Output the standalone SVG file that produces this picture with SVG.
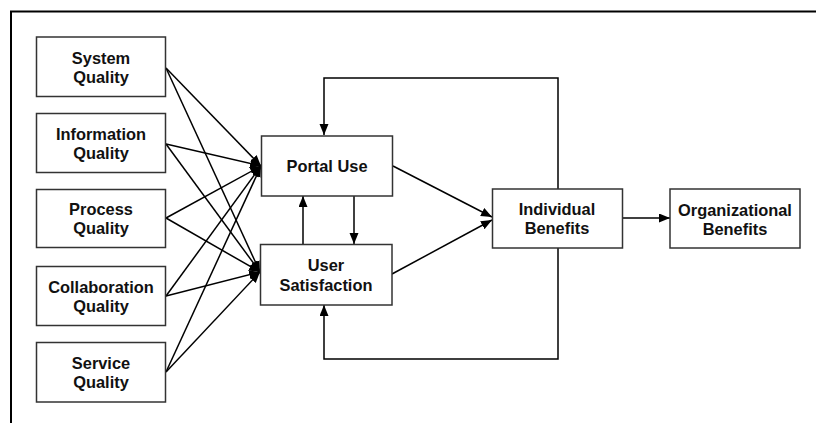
<svg xmlns="http://www.w3.org/2000/svg" width="816" height="423" viewBox="0 0 816 423">
<style>
.box{fill:#fff;stroke:#333;stroke-width:1.5}
.t{font-family:"Liberation Sans",Arial,sans-serif;font-weight:bold;font-size:16.4px;fill:#111;text-anchor:middle}
.c{fill:none;stroke:#000;stroke-width:1.5}
</style>
<defs>
<marker id="ah" markerUnits="userSpaceOnUse" markerWidth="12" markerHeight="10" refX="11" refY="4.5" orient="auto">
<path d="M0,0 L11,4.5 L0,9 z" fill="#000"/>
</marker>
</defs>
<rect width="816" height="423" fill="#fff"/>
<path d="M11,423 V11.5 H816" fill="none" stroke="#000" stroke-width="2"/>
<g id="connectors">
<line class="c" x1="166" y1="68" x2="261" y2="166" marker-end="url(#ah)"/>
<line class="c" x1="166" y1="68" x2="260" y2="272" marker-end="url(#ah)"/>
<line class="c" x1="166" y1="144" x2="261" y2="166" marker-end="url(#ah)"/>
<line class="c" x1="166" y1="144" x2="260" y2="272" marker-end="url(#ah)"/>
<line class="c" x1="166" y1="218" x2="261" y2="166" marker-end="url(#ah)"/>
<line class="c" x1="166" y1="218" x2="260" y2="272" marker-end="url(#ah)"/>
<line class="c" x1="166" y1="296" x2="261" y2="166" marker-end="url(#ah)"/>
<line class="c" x1="166" y1="296" x2="260" y2="272" marker-end="url(#ah)"/>
<line class="c" x1="166" y1="372" x2="261" y2="166" marker-end="url(#ah)"/>
<line class="c" x1="166" y1="372" x2="260" y2="272" marker-end="url(#ah)"/>
<line class="c" x1="354" y1="196" x2="354" y2="244" marker-end="url(#ah)"/>
<line class="c" x1="303" y1="244" x2="303" y2="196" marker-end="url(#ah)"/>
<line class="c" x1="393" y1="166" x2="492" y2="217" marker-end="url(#ah)"/>
<line class="c" x1="392" y1="274" x2="492" y2="220" marker-end="url(#ah)"/>
<line class="c" x1="623" y1="218" x2="670" y2="218" marker-end="url(#ah)"/>
<path class="c" d="M558,189 V78 H324 V135" marker-end="url(#ah)"/>
<path class="c" d="M558,248 V359 H324 V305" marker-end="url(#ah)"/>
</g>
<g id="system-quality"><rect class="box" x="36.5" y="37" width="129" height="59.5"/><text class="t" x="101" y="63.5">System</text><text class="t" x="101" y="82.5">Quality</text></g>
<g id="information-quality"><rect class="box" x="36.5" y="113.5" width="129" height="59"/><text class="t" x="101" y="140">Information</text><text class="t" x="101" y="159">Quality</text></g>
<g id="process-quality"><rect class="box" x="36.5" y="189.5" width="129" height="58"/><text class="t" x="101" y="215">Process</text><text class="t" x="101" y="234">Quality</text></g>
<g id="collaboration-quality"><rect class="box" x="36.5" y="266.5" width="129" height="59"/><text class="t" x="101" y="293">Collaboration</text><text class="t" x="101" y="312">Quality</text></g>
<g id="service-quality"><rect class="box" x="36.5" y="342.5" width="129" height="59.5"/><text class="t" x="101" y="369">Service</text><text class="t" x="101" y="388">Quality</text></g>
<g id="portal-use"><rect class="box" x="261.5" y="136" width="131" height="60"/><text class="t" x="327" y="172">Portal Use</text></g>
<g id="user-satisfaction"><rect class="box" x="260.5" y="244.5" width="131.5" height="60.5"/><text class="t" x="326" y="271">User</text><text class="t" x="326" y="291">Satisfaction</text></g>
<g id="individual-benefits"><rect class="box" x="492.5" y="189" width="130" height="59"/><text class="t" x="557" y="215">Individual</text><text class="t" x="557" y="234">Benefits</text></g>
<g id="organizational-benefits"><rect class="box" x="670" y="189" width="130" height="59"/><text class="t" x="735" y="216">Organizational</text><text class="t" x="735" y="235">Benefits</text></g>
</svg>
